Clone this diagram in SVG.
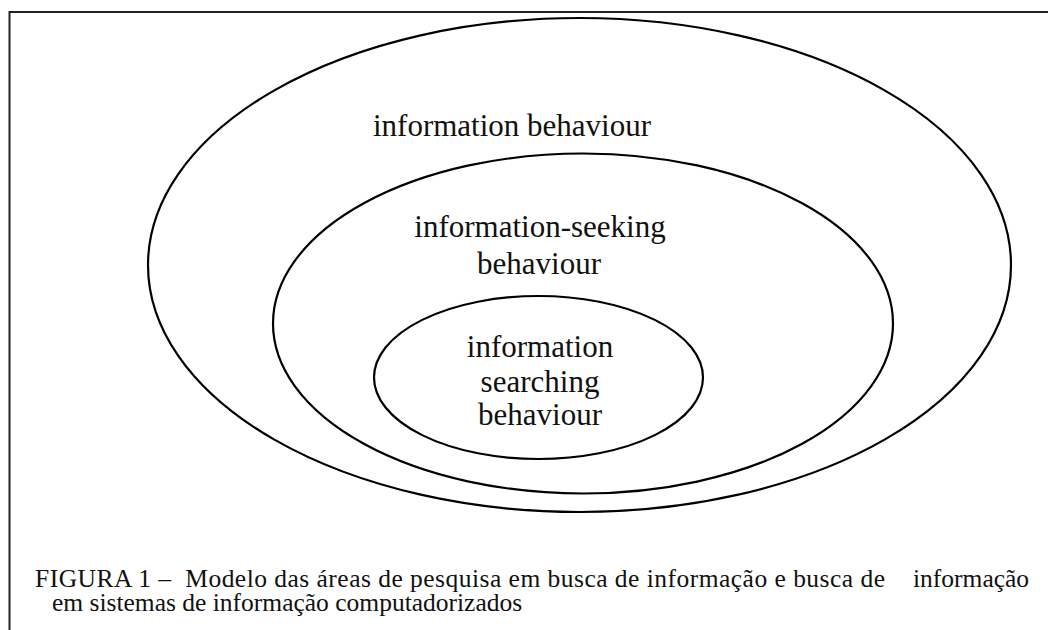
<svg xmlns="http://www.w3.org/2000/svg" width="1048" height="630" viewBox="0 0 1048 630">
<style>
.ring{fill:none;stroke:#000;stroke-width:2.2}
.lbl{font-family:"Liberation Serif","Times New Roman",Tinos,"DejaVu Serif",serif;font-size:31px;fill:#111;text-anchor:middle}
.cap{font-family:"Liberation Serif","Times New Roman",Tinos,"DejaVu Serif",serif;font-size:25.5px;fill:#111}
</style>
<rect width="1048" height="630" fill="#fff"/>
<path d="M9.5,630 V12 H1048" fill="none" stroke="#222" stroke-width="2"/>
<g id="outer">
<ellipse class="ring" cx="579.5" cy="265" rx="431.5" ry="247"/>
<text class="lbl" x="512" y="136">information behaviour</text>
</g>
<g id="middle">
<ellipse class="ring" cx="583" cy="323.5" rx="310" ry="170"/>
<text class="lbl" x="540" y="237">information-seeking</text>
<text class="lbl" x="539" y="274">behaviour</text>
</g>
<g id="inner">
<ellipse class="ring" cx="538.5" cy="377.5" rx="164.5" ry="81.5"/>
<text class="lbl" x="540" y="357">information</text>
<text class="lbl" x="540" y="392">searching</text>
<text class="lbl" x="540" y="425">behaviour</text>
</g>
<g id="connectors"/>
<g id="caption">
<text class="cap" x="35" y="587" textLength="850" xml:space="preserve">FIGURA 1 –  Modelo das áreas de pesquisa em busca de informação e busca de</text>
<text class="cap" x="913" y="587">informação</text>
<text class="cap" x="52" y="611">em sistemas de informação computadorizados</text>
</g>
</svg>
